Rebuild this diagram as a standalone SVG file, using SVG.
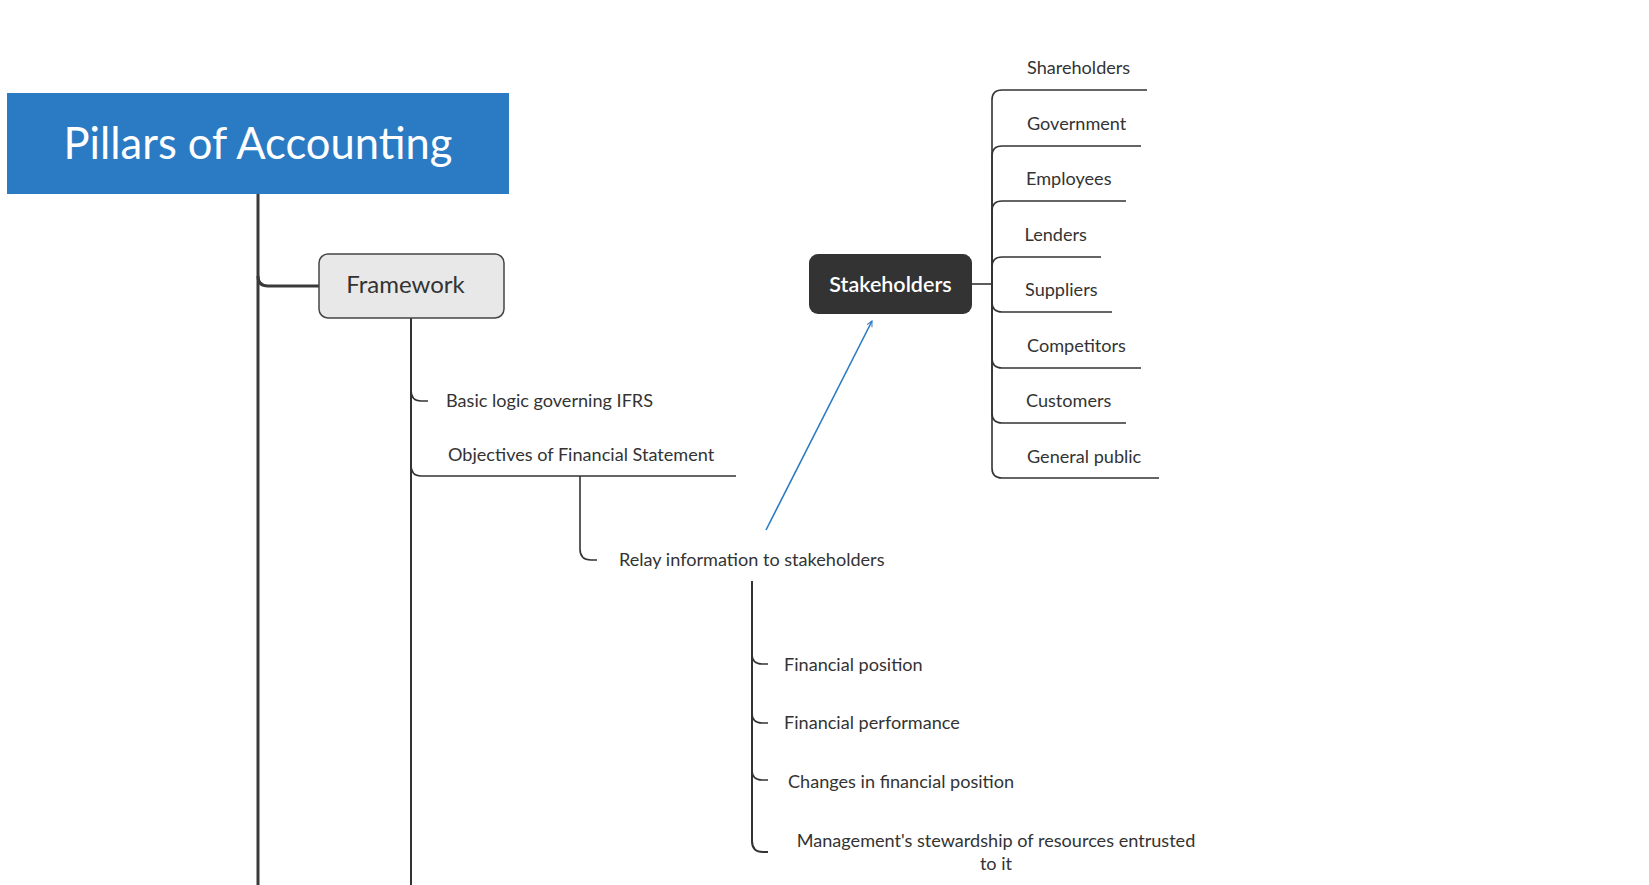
<svg xmlns="http://www.w3.org/2000/svg" width="1649" height="885" viewBox="0 0 1649 885">
<style>
.t{font-family:Lato,"Noto Sans","Liberation Sans",sans-serif;fill:#333;font-size:18.1px}
.ln{fill:none;stroke:#333;stroke-width:1.6;stroke-linecap:butt}
.trunk{fill:none;stroke:#3a3a3a;stroke-width:3}
</style>
<defs>
<marker id="ah" viewBox="0 0 10 10" refX="9" refY="5" markerWidth="7" markerHeight="7" orient="auto" markerUnits="userSpaceOnUse">
<path d="M1,1 L9,5 L1,9" fill="none" stroke="#2B7BC4" stroke-width="1.4"/>
</marker>
</defs>
<rect width="1649" height="885" fill="#fff"/>
<g id="connectors">
<path class="trunk" d="M258,194 L258,885"/>
<path class="trunk" d="M258,276 Q258,286 268,286 L319,286"/>
<path class="ln" style="stroke-width:2" d="M411,318 L411,885"/>
<path class="ln" d="M411,390 Q411,401 421,401 L428,401"/>
<path class="ln" d="M411,465 Q411,476 421,476 L736,476"/>
<path class="ln" d="M580,476 L580,549 Q580,560 591,560 L597,560"/>
<path class="ln" style="stroke-width:2" d="M752,581 L752,841 Q752,852 763,852 L768,852"/>
<path class="ln" d="M752,654 Q752,664 762,664 L768,664"/>
<path class="ln" d="M752,713 Q752,723 762,723 L768,723"/>
<path class="ln" d="M752,770 Q752,780 762,780 L768,780"/>
<path class="ln" d="M972,284 L992,284"/>
<path class="ln" d="M992,284 L992,100 Q992,90 1002,90 L1147,90"/>
<path class="ln" d="M992,284 L992,156 Q992,146 1002,146 L1141,146"/>
<path class="ln" d="M992,284 L992,211 Q992,201 1002,201 L1126,201"/>
<path class="ln" d="M992,284 L992,267 Q992,257 1002,257 L1101,257"/>
<path class="ln" d="M992,284 L992,302 Q992,312 1002,312 L1112,312"/>
<path class="ln" d="M992,284 L992,358 Q992,368 1002,368 L1141,368"/>
<path class="ln" d="M992,284 L992,413 Q992,423 1002,423 L1126,423"/>
<path class="ln" d="M992,284 L992,468 Q992,478 1002,478 L1159,478"/>
<path d="M766,530 L872,321" fill="none" stroke="#2B7BC4" stroke-width="1.6" marker-end="url(#ah)"/>
</g>
<g id="title">
<rect x="7" y="93" width="502" height="101" fill="#2B7BC4"/>
<text x="258" y="159" text-anchor="middle" style="font-family:Lato,'Noto Sans',sans-serif;font-size:43.5px;fill:#fff">Pillars of Accounting</text>
</g>
<g id="framework">
<rect x="319" y="254" width="185" height="64" rx="9" fill="#E8E8E8" stroke="#444" stroke-width="1.5"/>
<text x="405.5" y="293" text-anchor="middle" class="t" style="font-size:24px">Framework</text>
</g>
<g id="basic-logic"><text class="t" x="446" y="406.5">Basic logic governing IFRS</text></g>
<g id="objectives"><text class="t" x="448" y="461">Objectives of Financial Statement</text></g>
<g id="relay"><text class="t" x="619" y="565.5">Relay information to stakeholders</text></g>
<g id="fin-position"><text class="t" x="784" y="671">Financial position</text></g>
<g id="fin-performance"><text class="t" x="784" y="729">Financial performance</text></g>
<g id="changes"><text class="t" x="788" y="788">Changes in financial position</text></g>
<g id="stewardship"><text class="t" text-anchor="middle" x="996" y="846.5">Management's stewardship of resources entrusted<tspan x="996" dy="23">to it</tspan></text></g>
<g id="stakeholders">
<rect x="809" y="254" width="163" height="60" rx="9" fill="#333"/>
<text x="890.5" y="291.5" text-anchor="middle" style="font-family:Lato,'Noto Sans',sans-serif;font-size:21.5px;font-weight:600;fill:#fff">Stakeholders</text>
</g>
<g id="shareholders"><text class="t" x="1027" y="73.5">Shareholders</text></g>
<g id="government"><text class="t" x="1027" y="130">Government</text></g>
<g id="employees"><text class="t" x="1026" y="185">Employees</text></g>
<g id="lenders"><text class="t" x="1024.5" y="240.5">Lenders</text></g>
<g id="suppliers"><text class="t" x="1025" y="295.5">Suppliers</text></g>
<g id="competitors"><text class="t" x="1027" y="352">Competitors</text></g>
<g id="customers"><text class="t" x="1026" y="407">Customers</text></g>
<g id="general-public"><text class="t" x="1027" y="463">General public</text></g>
</svg>
